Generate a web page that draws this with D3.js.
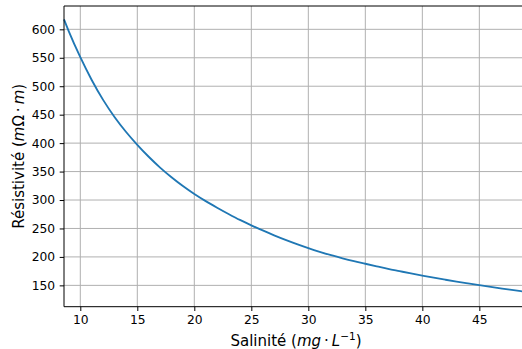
<!DOCTYPE html>
<html><head><meta charset="utf-8">
<script src="https://cdn.jsdelivr.net/npm/d3@7"></script>
<style>body{margin:0;background:#fff}svg{display:block}text{font-family:"DejaVu Sans",sans-serif;fill:#000}</style>
</head><body>
<script>
const salinity = [8.57,9,10,11,12,13,14,15,16,17,18,19,20,21,22,23,24,25,26,27,28,29,30,31,32,33,34,35,36,37,38,39,40,41,42,43,44,45,46,47,48,48.85];
const resistivity = [617.5,596,551,511,476,446,420,397,376,357,340,324.5,310.5,298,286.5,275.5,265,255.5,246.5,238,230,222.5,215.5,209,203,197.5,192.5,188,183.5,179,175,171,167.2,163.5,160,156.6,153.4,150.3,147.3,144.4,141.6,139.2];
const xTicks = [10,15,20,25,30,35,40,45];
const yTicks = [150,200,250,300,350,400,450,500,550,600];
const xLabel = "Salinité";
const yLabel = "Résistivité";

const W = 522, H = 349;
const L = 64, T = 6, R = 523, B = 306.7;
const svg = d3.select("body").append("svg").attr("width", W).attr("height", H);
const x = d3.scaleLinear().domain([8.57, 48.83]).range([L, R]);
const y = d3.scaleLinear().domain([112.5, 641]).range([B, T]);

const g = svg.append("g");
// grid
g.selectAll(".gx").data(xTicks).join("line")
  .attr("x1", d => x(d)).attr("x2", d => x(d)).attr("y1", T).attr("y2", B)
  .attr("stroke", "#b0b0b0").attr("stroke-width", 1);
g.selectAll(".gy").data(yTicks).join("line")
  .attr("y1", d => y(d)).attr("y2", d => y(d)).attr("x1", L).attr("x2", R)
  .attr("stroke", "#b0b0b0").attr("stroke-width", 1);

// line
const line = d3.line().x((d, i) => x(salinity[i])).y(d => y(d)).curve(d3.curveMonotoneX);
svg.append("path").datum(resistivity).attr("d", line)
  .attr("fill", "none").attr("stroke", "#1f77b4").attr("stroke-width", 1.85)
  .attr("stroke-linejoin", "round").attr("stroke-linecap", "butt");

// axes
const xAxis = d3.axisBottom(x).tickValues(xTicks).tickSize(4.3).tickPadding(4.5).tickSizeOuter(0);
const yAxis = d3.axisLeft(y).tickValues(yTicks).tickSize(4.3).tickPadding(4.5).tickSizeOuter(0);
const gx = svg.append("g").attr("transform", `translate(0,${B})`).call(xAxis);
const gy = svg.append("g").attr("transform", `translate(${L},0)`).call(yAxis);
[gx, gy].forEach(a => {
  a.select(".domain").remove();
  a.selectAll("text").attr("font-size", 12.3).attr("font-family", "DejaVu Sans").attr("fill", "#000");
  a.selectAll("line").attr("stroke", "#000").attr("stroke-width", 1);
});
// spines
svg.append("line").attr("x1", L).attr("x2", L).attr("y1", T).attr("y2", B).attr("stroke", "#000").attr("stroke-width", 1);
svg.append("line").attr("x1", L).attr("x2", R).attr("y1", B).attr("y2", B).attr("stroke", "#000").attr("stroke-width", 1);
svg.append("line").attr("x1", L).attr("x2", R).attr("y1", T).attr("y2", T).attr("stroke", "#000").attr("stroke-width", 1);

// x label
const xl = svg.append("text").attr("x", (L + 522) / 2 + 3).attr("y", 346).attr("text-anchor", "middle").attr("font-size", 15);
xl.append("tspan").text(xLabel + " (");
xl.append("tspan").attr("font-style", "italic").text("mg");
xl.append("tspan").text("\u2009·\u2009");
xl.append("tspan").attr("font-style", "italic").text("L");
xl.append("tspan").attr("font-size", 10.5).attr("dy", -6).text("−1");
xl.append("tspan").attr("dy", 6).text(")");

// y label
const yl = svg.append("text").attr("transform", `translate(24,${(T + B) / 2}) rotate(-90)`).attr("text-anchor", "middle").attr("font-size", 15);
yl.append("tspan").text(yLabel + " (");
yl.append("tspan").attr("font-style", "italic").text("m");
yl.append("tspan").text("Ω\u2009·\u2009");
yl.append("tspan").attr("font-style", "italic").text("m");
yl.append("tspan").text(")");
</script>
</body></html>
